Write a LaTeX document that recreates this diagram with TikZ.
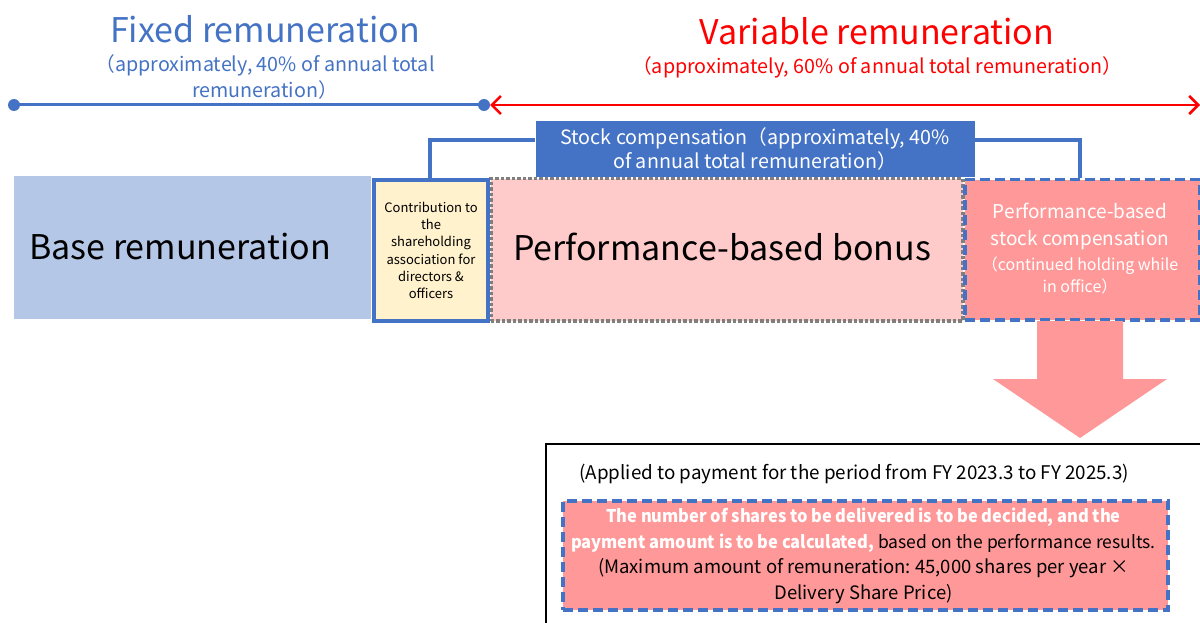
\documentclass[tikz,border=0pt]{standalone}
\usepackage{fontspec}
\usepackage{graphicx}
\setmainfont{Noto Sans CJK JP}
\usetikzlibrary{arrows.meta}
\definecolor{mblue}{HTML}{4472C4}
\definecolor{lblue}{HTML}{B4C7E7}
\definecolor{lyel}{HTML}{FFF2CC}
\definecolor{lpink}{HTML}{FFCACA}
\definecolor{mpink}{HTML}{FF9999}
\definecolor{mred}{HTML}{FF0000}
\definecolor{dgray}{HTML}{7F7F7F}
\tikzset{
  boxbase/.style={rectangle, inner sep=0pt, anchor=north west},
  fs/.style 2 args={font=\fontsize{#1}{#2}\selectfont},
  dot/.style={circle, fill=mblue, inner sep=0pt, minimum size=12pt},
  dashblue/.style={draw=mblue, line width=3.5pt, dash pattern=on 10pt off 5pt},
}
\newcommand{\wbold}[1]{\scalebox{0.94}[1]{\textcolor{white}{\bfseries #1}}}
\newcommand{\bigreg}{\fontsize{18.5}{25.5}\selectfont}
\frenchspacing
\begin{document}
\begin{tikzpicture}[x=1pt,y=-1pt]
\useasboundingbox (0,0) rectangle (1200,623);
% titles
\node[text=mblue, fs={34}{40}] (fixt) at (265,29) {Fixed remuneration};
\node[text=mblue, fs={19.7}{26}, align=center] (fixs) at (265,77) {（approximately, 40\% of annual total\\remuneration）};
\node[text=mred, fs={34}{40}] (vart) at (877,31) {Variable remuneration};
\node[text=mred, fs={19.7}{26}] (vars) at (877,67) {（approximately, 60\% of annual total remuneration）};
% timeline
\node[dot] (d1) at (14,105) {};
\node[dot] (d2) at (484,105) {};
\coordinate (rend) at (1200,105);
\draw[mblue, line width=3pt] (d1.center) -- (d2.center);
\draw[mred, line width=2.5pt, {Straight Barb[length=9pt,width=18pt]}-{Straight Barb[length=9pt,width=18pt]}] (d2.east) -- (rend);
% row of boxes
\node[boxbase, fill=lblue, minimum width=357pt, minimum height=143pt] (base) at (14,176) {};
\node[fs={34}{40}] (baset) at (180,247) {Base remuneration};
\node[boxbase, fill=lpink, draw=dgray, line width=3.5pt, dash pattern=on 3.5pt off 2pt, minimum width=472pt, minimum height=142pt] (bonus) at (489,177) {};
\node[fs={34}{40}] (bonust) at (722,247) {Performance-based bonus};
\node[boxbase, fill=lyel, draw=mblue, line width=4pt, minimum width=114pt, minimum height=141pt] (contr) at (372,178) {};
\node[fs={13}{17.3}, align=center] (contrt) at (contr.center) {Contribution to\\the\\shareholding\\association for\\directors \&\\officers};
\node[boxbase, fill=mpink, dashblue, minimum width=235pt, minimum height=140pt] (psc) at (963,178) {};
\node[text=white, fs={19}{27}, align=center] (psct1) at (1080,226) {Performance-based\\stock compensation};
\node[text=white, fs={16}{22}, align=center] (psct2) at (1080,275) {（continued holding while\\in office）};
% stock compensation bracket
\node[fill=mblue, text=white, fs={19.7}{24}, align=center, inner sep=0pt, minimum width=439pt, minimum height=56pt] (stock) at (755,149) {Stock compensation（approximately, 40\%\\of annual total remuneration）};
\coordinate (cl) at (430,140);
\coordinate (cr) at (1080,140);
\draw[mblue, line width=4pt] (contr.north -| cl) -- (cl) -- (cl -| stock.west);
\draw[mblue, line width=4pt] (cr -| stock.east) -- (cr) -- (psc.north -| cr);
% down arrow
\fill[mpink] (1037,321) -- (1123,321) -- (1123,379) -- (1167,379) -- (1080,438) -- (993,379) -- (1037,379) -- cycle;
% bottom box
\node[boxbase, draw=black, line width=2pt, minimum width=660pt, minimum height=200pt] (bot) at (545,443) {};
\node[fs={18.8}{24}, anchor=west] (applied) at (576,474) {(Applied to payment for the period from FY 2023.3 to FY 2025.3)};
\node[boxbase, fill=mpink, dashblue, minimum width=605pt, minimum height=109pt] (inner) at (561,499) {};
\node[fs={17.5}{25.5}, align=center] (innert) at (863.5,556) {\wbold{The number of shares to be delivered is to be decided, and the}\\\wbold{payment amount is to be calculated,} based on the performance results.\\\bigreg (Maximum amount of remuneration: 45,000 shares per year ×\\\bigreg Delivery Share Price)};
\end{tikzpicture}
\end{document}
